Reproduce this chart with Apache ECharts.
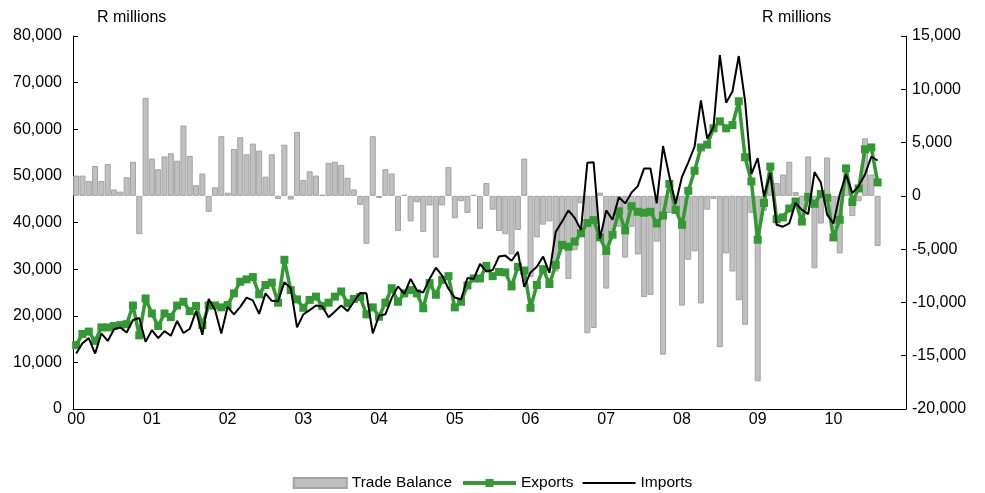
<!DOCTYPE html>
<html>
<head>
<meta charset="utf-8">
<script src="https://cdn.jsdelivr.net/npm/echarts@6/dist/echarts.min.js"></script>
<style>
  html, body { margin: 0; padding: 0; background: #fff; }
  #chart { width: 985px; height: 493px; }
</style>
</head>
<body>
<div id="chart"></div>
<script>
// Monthly trade figures, R millions, Jan 2000 - Aug 2010
const years = ['00', '01', '02', '03', '04', '05', '06', '07', '08', '09', '10'];

const exports = [
  13700, 16100, 16600, 14600, 17500, 17500, 17800, 18000, 18200, 22200, 15800, 23700,
  20500, 17800, 20500, 19700, 22200, 23000, 21000, 22100, 18000, 22200, 22200, 21800,
  22300, 24800, 27300, 27800, 28300, 24600, 26600, 27100, 22800, 32000, 25500, 23500,
  21700, 23400, 24100, 22100, 22800, 24100, 25200, 22700, 23600, 24000, 20300, 21800,
  19800, 22800, 25900, 23000, 24800, 25500, 24800, 21600, 27000, 24500, 27700, 28500,
  21800, 23000, 26500, 28000, 28000, 30700, 28500, 29400, 29300, 26300, 30500, 29700,
  21700, 26600, 30000, 26800, 30900, 35200, 34800, 35900, 37700, 39900, 40500, 36800,
  33900, 37400, 42400, 38300, 43500, 42300, 42100, 42300, 39800, 41500, 48300, 42700,
  39500, 46800, 51100, 56100, 56700, 60200, 61700, 60200, 60900, 66000, 54000, 48800,
  36300, 44200, 52000, 40700, 41100, 43000, 44500, 40200, 45500, 44000, 46100, 45300,
  36800, 40600, 51600, 44400, 47300, 55700, 56100, 48600
];

const imports = [
  11900, 14100, 15200, 11900, 16200, 14600, 17100, 17500, 16400, 19100, 19500, 14400,
  16900, 15200, 16700, 15700, 18900, 16300, 17200, 21000, 15900, 23600, 21300, 16200,
  21900, 20300, 21900, 23900, 23300, 20400, 24800, 23200, 23100, 27200, 25900, 17500,
  20300, 21200, 22200, 22000, 19700, 20900, 22200, 21000, 23000, 24900, 24800, 16200,
  20000, 20300, 23800, 26300, 24700, 27900, 25400, 25000, 27900, 30300, 28600, 25800,
  23900, 23500, 28100, 27900, 31100, 29500, 29800, 32700, 32900, 31800, 33700, 26200,
  29300, 30500, 32700, 29200, 38000, 40200, 42600, 41000, 38400, 52800, 52900, 36500,
  42600, 40600, 45400, 44100, 46400, 47800, 51600, 51600, 44100, 56400, 49900, 44000,
  49800, 52900, 56300, 66200, 58000, 60500, 75900, 65700, 68100, 75700, 66100, 50400,
  53800, 45600, 50600, 39500, 39100, 39800, 44200, 42700, 41800, 50800, 48600, 41700,
  39800, 46000, 50300, 46300, 47800, 50300, 54100, 53300
];

const tradeBalance = [
  1900, 1900, 1400, 2800, 1400, 3000, 600, 400, 1750, 3200, -3600, 9200,
  3500, 2500, 3700, 4000, 3300, 6600, 3750, 1000, 2100, -1500, 800, 5600,
  300, 4400, 5500, 3900, 4900, 4250, 1800, 3900, -300, 4800, -350, 6000,
  1500, 2300, 1900, 100, 3100, 3200, 2900, 1700, 600, -850, -4500, 5600,
  -200, 2500, 2100, -3300, 100, -2400, -600, -3400, -900, -5800, -900, 2700,
  -2100, -500, -1600, 100, -3100, 1200, -1300, -3300, -3600, -5500, -3200, 3500,
  -7600, -3900, -2700, -2400, -7100, -5000, -7800, -5100, -700, -12900, -12400, 300,
  -8700, -3200, -2900, -5800, -2900, -5500, -9500, -9300, -4300, -14900, -1600, -1300,
  -10300, -6000, -5200, -10100, -1300, -300, -14200, -5400, -7100, -9800, -12100, -1600,
  -17400, -1400, 1400, 1200, 2000, 3200, 350, -2500, 3700, -6800, -2600, 3600,
  -3000, -5400, 1300, -1900, -500, 5400, 2000, -4700
];

// one category per month through Dec 2010
const categories = [];
years.forEach(function (y) {
  for (let m = 1; m <= 12; m++) categories.push(y + '/' + m);
});

const FONT = '"Liberation Sans", Arial, sans-serif';
const thousands = function (v) {
  const s = Math.abs(v).toString().replace(/\B(?=(\d{3})+(?!\d))/g, ',');
  return (v < 0 ? '-' : '') + s;
};
const yearStart = function (i) { return i % 12 === 0; };

const chart = echarts.init(document.getElementById('chart'), null, { renderer: 'canvas' });

chart.setOption({
  animation: false,
  backgroundColor: '#ffffff',
  grid: { left: 73, right: 79, top: 36, bottom: 84, containLabel: false },
  graphic: [
    { type: 'text', left: 97, top: 10, style: { text: 'R millions', font: '16px ' + FONT, fill: '#000' } },
    { type: 'text', left: 762, top: 10, style: { text: 'R millions', font: '16px ' + FONT, fill: '#000' } }
  ],
  legend: {
    top: 470,
    left: 'center',
    itemWidth: 53,
    itemHeight: 10,
    itemGap: 9,
    textStyle: { fontFamily: FONT, fontSize: 15.5, color: '#000' },
    data: [
      { name: 'Trade Balance', icon: 'rect' },
      { name: 'Exports', lineStyle: { width: 4 } },
      { name: 'Imports', icon: 'path://M0,0 H106 V4 H0 Z' }
    ]
  },
  xAxis: {
    type: 'category',
    data: categories,
    boundaryGap: true,
    axisLine: { lineStyle: { color: '#000', width: 1 } },
    axisTick: { inside: true, length: 5, interval: yearStart, lineStyle: { color: '#000' } },
    axisLabel: {
      interval: yearStart,
      margin: 3,
      fontFamily: FONT,
      fontSize: 16,
      color: '#000',
      formatter: function (v) { return v.split('/')[0]; }
    },
    splitLine: { show: false }
  },
  yAxis: [
    {
      type: 'value',
      position: 'left',
      min: 0, max: 80000, interval: 10000,
      axisLine: { show: true, lineStyle: { color: '#000', width: 1 } },
      axisTick: { show: true, inside: true, length: 5, lineStyle: { color: '#000' } },
      axisLabel: { margin: 11, fontFamily: FONT, fontSize: 16, color: '#000', formatter: thousands },
      splitLine: { show: false }
    },
    {
      type: 'value',
      position: 'right',
      min: -20000, max: 15000, interval: 5000,
      axisLine: { show: true, lineStyle: { color: '#000', width: 1 } },
      axisTick: { show: true, inside: true, length: 5, lineStyle: { color: '#000' } },
      axisLabel: { margin: 6, fontFamily: FONT, fontSize: 16, color: '#000', formatter: thousands },
      splitLine: { show: false }
    }
  ],
  series: [
    {
      name: 'Trade Balance',
      type: 'bar',
      yAxisIndex: 1,
      data: tradeBalance,
      barCategoryGap: '5%',
      itemStyle: { color: '#C0C0C0', borderColor: '#A3A3A3', borderWidth: 1 },
      z: 1
    },
    {
      name: 'Exports',
      type: 'line',
      yAxisIndex: 0,
      data: exports,
      symbol: 'rect',
      symbolSize: 8,
      showAllSymbol: true,
      itemStyle: { color: '#339933' },
      lineStyle: { color: '#339933', width: 3.5 },
      z: 3
    },
    {
      name: 'Imports',
      type: 'line',
      yAxisIndex: 0,
      data: imports,
      symbol: 'none',
      itemStyle: { color: '#000' },
      lineStyle: { color: '#000', width: 2 },
      z: 4
    }
  ]
});
</script>
</body>
</html>
